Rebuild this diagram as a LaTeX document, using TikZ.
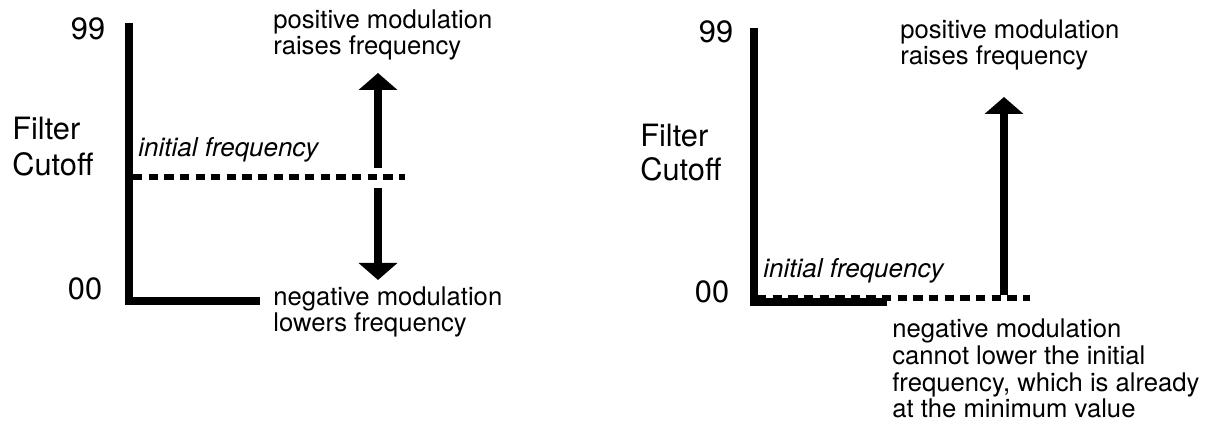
\documentclass[tikz,border=0pt]{standalone}
\usepackage{fontspec}
\setmainfont{TeX Gyre Heros}
\usepackage{tikz}
\usetikzlibrary{arrows.meta, positioning}

\begin{document}
\begin{tikzpicture}[
      x=0.02cm, y=0.02cm,
      txt/.style={inner sep=0pt, font=\fontsize{14.6}{15.3}\selectfont, align=left},
      scalelabel/.style={inner sep=0pt, font=\fontsize{17.5}{20}\selectfont},
      initlabel/.style={inner sep=0pt, font=\fontsize{14.8}{16}\selectfont\itshape},
      axis/.style={line width=4.3pt, line join=miter},
      initline/.style={line width=3pt, dash pattern=on 5.3pt off 3.6pt},
      modarrow/.style={line width=4.5pt, -{Triangle[width=0.76cm, length=0.34cm]}}
  ]
      \useasboundingbox (0,0) rectangle (1210,438);

      % Left panel: initial frequency half way up
      \node[scalelabel, anchor=base] (maxL) at (88,398) {99};
      \node[scalelabel, anchor=base] (minL) at (85,138) {00};
      \node[scalelabel, anchor=base west] (filterL) at (12,298) {Filter};
      \node[scalelabel, anchor=base west] (cutoffL) at (12,262) {Cutoff};
      \draw[axis] (129,415) -- (129,137) -- (260,137);
      \draw[initline] (133,261) -- (405,261);
      \node[initlabel, anchor=base west] (initL) at (138,281) {initial frequency};

      \coordinate (upfromL) at (378,270);
      \coordinate (uptoL) at (378,365);
      \coordinate (downfromL) at (378,250);
      \coordinate (downtoL) at (378,158);
      \draw[modarrow] (upfromL) -- (uptoL);
      \draw[modarrow] (downfromL) -- (downtoL);
      \node[txt, anchor=base west] (posL) at (273,383) {positive modulation\\raises frequency};
      \node[txt, anchor=base west] (negL) at (273,106) {negative modulation\\lowers frequency};

      % Right panel: initial frequency at the bottom
      \node[scalelabel, anchor=base] (maxR) at (716,395) {99};
      \node[scalelabel, anchor=base] (minR) at (712,135) {00};
      \node[scalelabel, anchor=base west] (filterR) at (640,291) {Filter};
      \node[scalelabel, anchor=base west] (cutoffR) at (640,257) {Cutoff};
      \draw[axis] (754,410) -- (754,136) -- (887,136);
      \draw[initline] (757,140) -- (1030,140);
      \node[initlabel, anchor=base west] (initR) at (763,160) {initial frequency};

      \coordinate (upfromR) at (1004,143);
      \coordinate (uptoR) at (1004,341);
      \draw[modarrow] (upfromR) -- (uptoR);
      \node[txt, anchor=base west] (posR) at (900,373) {positive modulation\\raises frequency};
      \node[txt, anchor=base west] (negR) at (892,20) {negative modulation\\cannot lower the initial\\frequency, which is already\\at the minimum value};
  \end{tikzpicture}
\end{document}
